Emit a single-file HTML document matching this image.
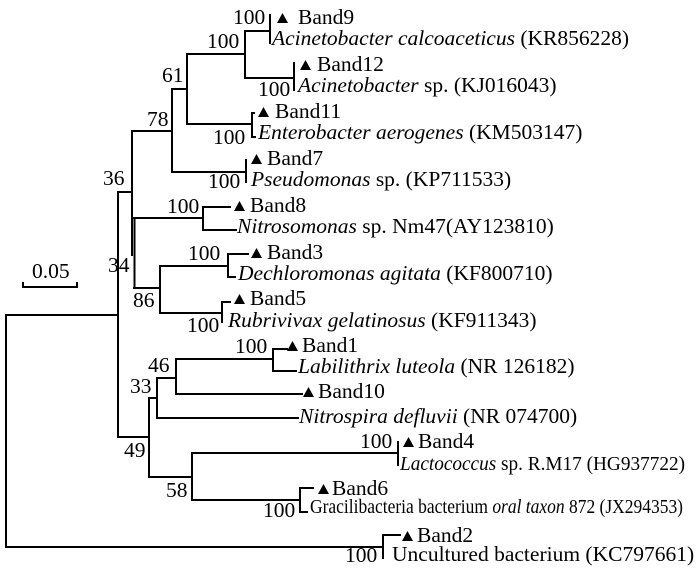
<!DOCTYPE html>
<html>
<head>
<meta charset="utf-8">
<style>
  html, body { margin: 0; padding: 0; background: #fff; }
  svg { display: block; }
  text { font-family: "Liberation Serif", "Times New Roman", serif; font-size: 21.5px; fill: #000; }
  .i { font-style: italic; }
</style>
</head>
<body>
<svg width="700" height="577" viewBox="0 0 700 577" xmlns="http://www.w3.org/2000/svg" font-family="Liberation Serif, serif">
  <rect x="0" y="0" width="700" height="577" fill="#fff"/>
  <g stroke="#000" stroke-width="2" fill="none" stroke-linecap="square">
    <path d="M6,315 V547 M6,315 H118 M6,547 H383"/>
    <path d="M118,192 V437 M118,192 H132 M118,437 H149"/>
    <path d="M132,131 V255 M132,131 H172"/>
    <path d="M134.5,218 V288 M134,218 H203 M134,288 H160"/>
    <path d="M172,89 V172 M172,89 H187 M172,172 H246"/>
    <path d="M187,54 V124 M187,54 H245 M187,124 H252"/>
    <path d="M245,31 V78 M245,31 H270 M245,78 H294"/>
    <path d="M270,15 V43"/>
    <path d="M294,63 V90"/>
    <path d="M252,113 V137 M252,113 H254 M252,137 H255"/>
    <path d="M246,160 V182"/>
    <path d="M203,207 V230 M203,207 H230 M203,230 H236"/>
    <path d="M160,266 V313 M160,266 H228 M160,313 H222"/>
    <path d="M228,254 V277 M228,254 H248 M228,277 H235"/>
    <path d="M222,302 V322 M222,302 H230"/>
    <path d="M149,398 V477 M149,398 H157 M149,477 H192"/>
    <path d="M157,378 V418 M157,378 H176 M157,418 H298"/>
    <path d="M176,359 V394 M176,359 H273 M176,394 H302"/>
    <path d="M273,349 V371 M273,349 H287 M273,371 H296"/>
    <path d="M192,453 V500 M192,453 H398 M192,500 H300"/>
    <path d="M398,442 V465"/>
    <path d="M300,488 V512 M300,488 H313 M300,512 H307"/>
    <path d="M383,535 V558 M383,535 H400"/>
    <path d="M23,287 H77 M23,283 V287 M77,283 V287"/>
  </g>

  <g fill="#000">
    <polygon points="277,23 288,23 282.5,13"/>
    <polygon points="300,70 311,70 305.5,60"/>
    <polygon points="258,117 269,117 263.5,107"/>
    <polygon points="251,164 262,164 256.5,154"/>
    <polygon points="234,211 245,211 239.5,201"/>
    <polygon points="251,258 262,258 256.5,248"/>
    <polygon points="234,304 245,304 239.5,294"/>
    <polygon points="287,351 298,351 292.5,341"/>
    <polygon points="303,397 314,397 308.5,387"/>
    <polygon points="403,447 414,447 408.5,437"/>
    <polygon points="318,494 329,494 323.5,484"/>
    <polygon points="402,541 413,541 407.5,531"/>
  </g>

  <text x="32" y="278">0.05</text>

  <text x="233" y="24">100</text>
  <text x="207" y="48">100</text>
  <text x="258" y="96">100</text>
  <text x="162" y="82">61</text>
  <text x="147" y="126">78</text>
  <text x="213" y="144">100</text>
  <text x="208" y="188">100</text>
  <text x="103" y="185">36</text>
  <text x="167" y="213">100</text>
  <text x="188" y="260">100</text>
  <text x="108" y="272">34</text>
  <text x="133" y="307">86</text>
  <text x="187" y="332">100</text>
  <text x="235" y="353">100</text>
  <text x="148" y="372">46</text>
  <text x="130" y="393">33</text>
  <text x="124" y="457">49</text>
  <text x="166" y="497">58</text>
  <text x="360" y="448">100</text>
  <text x="263" y="517">100</text>
  <text x="345" y="562">100</text>

  <text x="298" y="24">Band9</text>
  <text x="317" y="71">Band12</text>
  <text x="275" y="118">Band11</text>
  <text x="267" y="165">Band7</text>
  <text x="250" y="212">Band8</text>
  <text x="267" y="259">Band3</text>
  <text x="250" y="305">Band5</text>
  <text x="302" y="352">Band1</text>
  <text x="318" y="398">Band10</text>
  <text x="418" y="448">Band4</text>
  <text x="332" y="495">Band6</text>
  <text x="417" y="542">Band2</text>

  <text x="272" y="45"><tspan class="i">Acinetobacter calcoaceticus</tspan> (KR856228)</text>
  <text x="298" y="92"><tspan class="i">Acinetobacter</tspan> sp. (KJ016043)</text>
  <text x="258" y="139"><tspan class="i">Enterobacter aerogenes</tspan> (KM503147)</text>
  <text x="251" y="186"><tspan class="i">Pseudomonas</tspan> sp. (KP711533)</text>
  <text x="237" y="233"><tspan class="i">Nitrosomonas</tspan> sp. Nm47(AY123810)</text>
  <text x="238" y="280"><tspan class="i">Dechloromonas agitata</tspan> (KF800710)</text>
  <text x="228" y="327"><tspan class="i">Rubrivivax gelatinosus</tspan> (KF911343)</text>
  <text x="298" y="373"><tspan class="i">Labilithrix luteola</tspan> (NR 126182)</text>
  <text x="299" y="423"><tspan class="i">Nitrospira defluvii</tspan> (NR 074700)</text>
  <text x="400" y="470" style="font-size:20px" textLength="285" lengthAdjust="spacingAndGlyphs"><tspan class="i">Lactococcus</tspan> sp. R.M17 (HG937722)</text>
  <text x="310" y="513" style="font-size:20px" textLength="373" lengthAdjust="spacingAndGlyphs">Gracilibacteria bacterium <tspan class="i">oral taxon</tspan> 872 (JX294353)</text>
  <text x="392" y="561">Uncultured bacterium (KC797661)</text>
</svg>
</body>
</html>
